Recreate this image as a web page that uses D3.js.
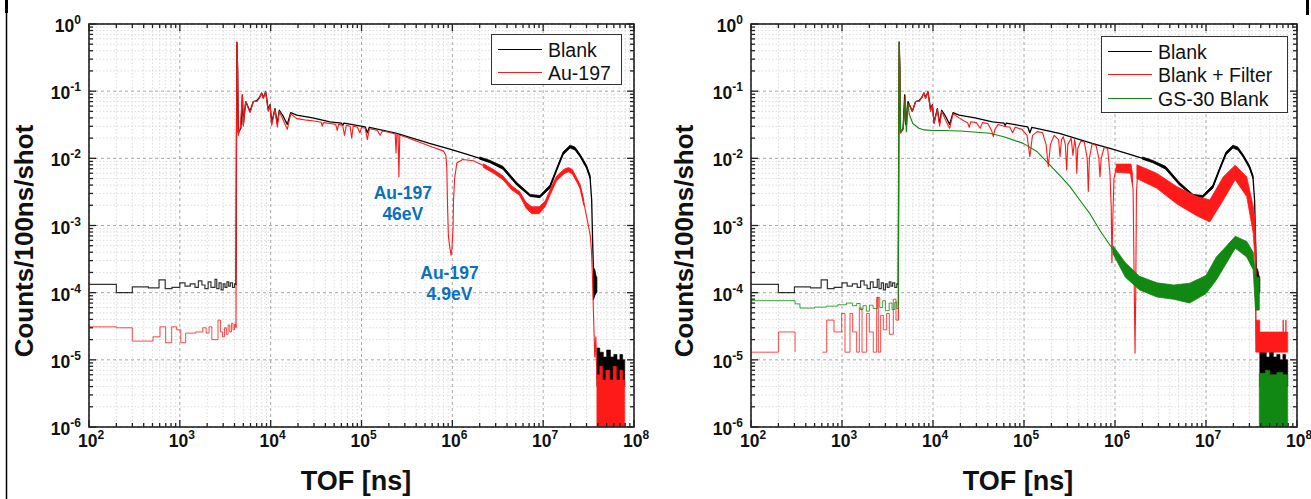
<!DOCTYPE html>
<html>
<head>
<meta charset="utf-8">
<script src="https://cdn.jsdelivr.net/npm/d3@7"></script>
<style>
	body { margin:0; background:#fff; }
	svg { display:block; font-family:"Liberation Sans", Arial, sans-serif; }
	.tick-label { font-weight:bold; font-size:17.5px; fill:#111; }
	.axis-title { font-weight:bold; fill:#111; }
	.legend text { font-size:19.5px; fill:#111; }
	.note { font-weight:bold; font-size:17.5px; fill:#0b6fc0; }
</style>
</head>
<body>
<svg id="chart" width="1311" height="499"></svg>
<script>
// AXES
var xDomain = [1e2, 1e8];
var yDomain = [1e-6, 1];
var xExponents = [2, 3, 4, 5, 6, 7, 8];
var yExponents = [0, -1, -2, -3, -4, -5, -6];

// BLANK (black, shared by both panels) [tof ns, counts]
var blankPre = [[100,1.33e-4],[200,1.0e-4],[300,1.22e-4],[450,1.18e-4],[590,1.55e-4],[690,1.15e-4],[820,1.2e-4],[1000,1.4e-4],[1140,1.25e-4],[1300,1.35e-4],[1470,1.2e-4],[1600,1.5e-4],[1750,1.3e-4],[1890,1.15e-4],[2050,1.45e-4],[2200,1.2e-4],[2440,1.58e-4],[2550,1.15e-4],[2700,1.4e-4],[2850,1.1e-4],[3000,1.35e-4],[3140,1.2e-4],[3300,1.45e-4],[3450,1.25e-4],[3600,1.4e-4],[3800,1.2e-4],[4000,1.35e-4],[4150,1.3e-4]];
var blankMain = [[4150,1.3e-4],[4200,0.017],[4250,0.53],[4330,0.21],[4400,0.024],[4700,0.028],[4880,0.088],[5000,0.032],[5310,0.07],[5930,0.05],[6440,0.07],[7020,0.072],[7500,0.08],[7960,0.094],[8290,0.08],[8810,0.098],[9410,0.053],[9840,0.063],[10270,0.034],[11160,0.055],[11830,0.033],[12450,0.052],[13770,0.042],[15240,0.032],[16620,0.048],[19360,0.044],[29000,0.04],[45000,0.035],[60000,0.0335],[62000,0.031],[64000,0.0335],[110000,0.0293],[116000,0.024],[122000,0.029],[245000,0.0236],[560000,0.0167],[940000,0.0137],[1550000,0.0112],[2600000,0.0089],[3600000,0.0072],[5100000,0.0042],[7200000,0.0028],[9200000,0.0027],[11900000,0.0038],[14000000,0.0067],[16600000,0.0119],[19800000,0.0149],[22400000,0.014],[25500000,0.011],[30000000,0.0075],[32800000,0.0053],[34200000,0.0024],[35000000,6e-4],[35700000,2.4e-4]];
// [tof, low, high] envelopes of the noisy parts
var blankBand = [[2.0e6,0.0097,0.0105],[2.6e6,0.0086,0.0093],[3.6e6,0.0069,0.0076],[5.1e6,0.004,0.0044],[7.2e6,0.0027,0.0029],[9.2e6,0.0026,0.0028],[1.19e7,0.0036,0.004],[1.4e7,0.0064,0.007],[1.66e7,0.0113,0.0125],[1.98e7,0.0142,0.0157],[2.24e7,0.0133,0.0147],[2.55e7,0.0105,0.0115],[3.0e7,0.0071,0.0079],[3.28e7,0.005,0.0056]];
var blankNoise = [[3.57e7,7.8e-5,2.4e-4],[3.7e7,9e-5,2.2e-4],[3.85e7,1e-4,1.7e-4],[3.9e7,1e-4,1.7e-4]];
var blankTail = [[3.9e7,4e-6,1.5e-5],[4.2e7,4.5e-6,1.3e-5],[4.6e7,4e-6,1.1e-5],[5.0e7,4.5e-6,1.4e-5],[5.5e7,4e-6,1.1e-5],[6.0e7,4.5e-6,1.2e-5],[6.5e7,4e-6,1.0e-5],[7.0e7,4.5e-6,1.2e-5],[7.5e7,4e-6,1.0e-5],[7.9e7,4e-6,1.0e-5]];

// AU-197 (red, left panel)
var auPre = [[100,3.1e-5],[200,3.0e-5],[300,1.9e-5],[507,2.2e-5],[605,3.1e-5],[698,1.8e-5],[813,3.1e-5],[922,2.8e-5],[1025,1.8e-5],[1160,2.5e-5],[1496,2.6e-5],[1785,3.0e-5],[1950,2.5e-5],[2100,3.1e-5],[2250,2.0e-5],[2630,3.9e-5],[2800,2.6e-5],[2950,2.2e-5],[3100,3.0e-5],[3250,2.4e-5],[3400,3.3e-5],[3550,2.6e-5],[3700,3.5e-5],[3850,2.8e-5],[4000,3.4e-5],[4150,3.0e-5]];
var auMain = [[4150,3.0e-5],[4200,0.017],[4250,0.54],[4330,0.22],[4400,0.022],[4650,0.03],[4880,0.088],[5000,0.03],[5310,0.07],[5930,0.048],[6440,0.07],[7020,0.07],[7500,0.078],[7960,0.093],[8290,0.078],[8810,0.098],[9410,0.05],[9840,0.062],[10270,0.031],[11160,0.054],[11830,0.029],[12450,0.05],[13770,0.037],[15240,0.027],[16620,0.046],[19360,0.039],[22000,0.038],[25000,0.037],[30000,0.036],[36000,0.0345],[37000,0.03],[38000,0.034],[45000,0.033],[52000,0.032],[54000,0.026],[56000,0.032],[62000,0.031],[65000,0.022],[68000,0.031],[75000,0.03],[78000,0.02],[81000,0.03],[90000,0.0292],[96000,0.024],[100000,0.0288],[110000,0.028],[116000,0.019],[122000,0.0275],[135000,0.027],[150000,0.026],[160000,0.022],[170000,0.0255],[200000,0.0245],[235000,0.023],[240000,0.012],[245000,0.0228],[253000,0.022],[258000,0.0053],[264000,0.022],[300000,0.021],[450000,0.017],[600000,0.0148],[800000,0.0128],[850000,0.011],[870000,0.007],[885000,0.002],[905000,7e-4],[940000,4.6e-4],[970000,3.6e-4],[990000,4.5e-4],[1020000,0.001],[1030000,0.0023],[1060000,0.005],[1120000,0.0085],[1300000,0.0096],[1700000,0.0092],[2200000,0.0078],[2900000,0.0063],[3600000,0.0052],[4500000,0.0036],[5500000,0.003],[6500000,0.002],[7500000,0.0017],[9000000,0.0017],[10500000,0.0021],[12000000,0.0032],[14000000,0.005],[17000000,0.0064],[19000000,0.0068],[21000000,0.0063],[24000000,0.0045],[25500000,0.0038],[28000000,0.0022],[31000000,0.0011],[33000000,7e-4],[34000000,4.3e-4],[35000000,1.5e-4],[35700000,5.5e-5],[37000000,1.1e-5],[38000000,2.2e-5],[39000000,5e-6]];
var auBand = [[2.2e6,0.0073,0.0083],[2.9e6,0.0059,0.0067],[3.6e6,0.0048,0.0055],[4.5e6,0.0034,0.0039],[5.5e6,0.0028,0.0032],[6.5e6,0.0018,0.0022],[7.5e6,0.0015,0.0019],[9e6,0.0015,0.0019],[1.05e7,0.0019,0.0023],[1.2e7,0.0029,0.0035],[1.4e7,0.0046,0.0054],[1.7e7,0.0059,0.0069],[1.9e7,0.0063,0.0073],[2.1e7,0.0058,0.0068],[2.4e7,0.0042,0.0048],[2.55e7,0.0035,0.0041],[2.8e7,0.002,0.0024]];
var auTail = [[3.9e7,1e-6,6e-6],[4.2e7,1e-6,8e-6],[4.5e7,1e-6,5e-6],[4.9e7,1e-6,7e-6],[5.4e7,1e-6,5e-6],[5.9e7,1e-6,8e-6],[6.4e7,1e-6,5e-6],[7.0e7,1e-6,7e-6],[7.5e7,1e-6,5e-6],[7.9e7,1e-6,5e-6]];

// BLANK + FILTER (red, right panel) -- 0 marks empty bins
var filterPre = [[100,1.3e-5],[200,2.6e-5],[305,1.3e-5],[320,0],[608,1.3e-5],[679,3.9e-5],[817,2.6e-5],[991,4.9e-5],[1079,1.3e-5],[1224,4.9e-5],[1310,2.6e-5],[1449,1.3e-5],[1550,5.9e-5],[1660,1.3e-5],[1866,4.9e-5],[1995,2.6e-5],[2208,1.3e-5],[2403,8.5e-5],[2507,1.3e-5],[2660,4.6e-5],[2846,2.8e-5],[3096,4.9e-5],[3313,2.4e-5],[3664,8e-5],[3920,3.9e-5],[4160,3.9e-5]];
var filterMain = [[4160,3.9e-5],[4200,0.0167],[4250,0.5],[4330,0.2],[4400,0.024],[4700,0.027],[4950,0.085],[5100,0.03],[5400,0.065],[5930,0.05],[6440,0.07],[7020,0.07],[7500,0.08],[7960,0.095],[8290,0.078],[8810,0.098],[9410,0.05],[9840,0.062],[10270,0.033],[11160,0.054],[11830,0.03],[12450,0.05],[13770,0.037],[15240,0.028],[16620,0.046],[19360,0.04],[22000,0.036],[24000,0.034],[25000,0.029],[26000,0.035],[30000,0.034],[33000,0.028],[35000,0.034],[40000,0.033],[44000,0.026],[46000,0.021],[48000,0.027],[52000,0.032],[60000,0.03],[70000,0.029],[75000,0.024],[80000,0.029],[95000,0.027],[108000,0.022],[116000,0.0106],[124000,0.022],[140000,0.025],[160000,0.024],[175000,0.016],[185000,0.0075],[195000,0.016],[215000,0.022],[240000,0.019],[249000,0.0106],[258000,0.019],[270000,0.021],[285000,0.016],[294000,0.0067],[303000,0.016],[330000,0.02],[345000,0.011],[360000,0.019],[372000,0.014],[380000,0.006],[390000,0.014],[420000,0.018],[460000,0.0175],[495000,0.01],[509000,0.0032],[523000,0.01],[560000,0.0165],[620000,0.0155],[665000,0.01],[684000,0.0053],[705000,0.01],[760000,0.0145],[830000,0.014],[880000,0.006],[910000,0.0018],[925000,2.8e-4],[945000,0.0012],[975000,0.005],[1030000,0.0072],[1200000,0.0075],[1450000,0.0072],[1580000,0.0035],[1630000,1e-4],[1660000,1.26e-5],[1690000,1e-4],[1720000,0.003],[1780000,0.0068]];
var filterBandA = [[1.03e6,0.0062,0.0082],[1.5e6,0.006,0.0082],[1.56e6,0.0042,0.0058]];
var filterBand = [[1.74e6,0.005,0.008],[2.87e6,0.0036,0.006],[4.76e6,0.0021,0.0038],[7.9e6,0.0014,0.0027],[1.1e7,0.00113,0.0024],[1.55e7,0.0024,0.0053],[2.09e7,0.0048,0.0079],[2.8e7,0.0027,0.0053],[3.31e7,7.6e-4,0.0019],[3.45e7,3e-4,0.0012],[3.55e7,1.3e-5,4e-4]];
var filterTail = [[3.55e7,1.3e-5,3.9e-5],[3.9e7,1.3e-5,2.6e-5],[7.0e7,1.3e-5,3.9e-5],[7.1e7,1.3e-5,2.6e-5],[7.5e7,1.3e-5,3.9e-5],[7.6e7,1.3e-5,2.6e-5],[7.9e7,1.3e-5,2.6e-5]];

// GS-30 BLANK (green, right panel)
var gsPre = [[100,7.6e-5],[305,6.8e-5],[345,5.9e-5],[500,6.1e-5],[676,6.3e-5],[900,6.6e-5],[1120,7.0e-5],[1300,6.4e-5],[1450,6.9e-5],[1580,5.6e-5],[1700,6.4e-5],[1850,5.3e-5],[2000,6.5e-5],[2200,5.8e-5],[2450,8.5e-5],[2600,6.0e-5],[2800,7.6e-5],[3000,5.4e-5],[3300,7.0e-5],[3550,5.6e-5],[3800,7.2e-5],[4000,5.8e-5],[4160,6.5e-5]];
var gsMain = [[4160,6.5e-5],[4200,0.02],[4240,0.55],[4320,0.2],[4400,0.025],[4700,0.028],[4950,0.074],[5100,0.025],[5300,0.066],[5500,0.045],[6000,0.033],[7000,0.028],[8000,0.0265],[10000,0.026],[13000,0.026],[20000,0.0255],[42000,0.0236],[60000,0.021],[98000,0.0167],[140000,0.0125],[185000,0.0084],[250000,0.0055],[320000,0.0038],[400000,0.0025],[530000,0.0015],[700000,8e-4],[950000,4.4e-4]];
var gsBand = [[9.5e5,3.8e-4,5.0e-4],[1.3e6,1.7e-4,2.8e-4],[1.86e6,1.1e-4,1.75e-4],[2.9e6,8.6e-5,1.4e-4],[4.4e6,8e-5,1.3e-4],[6.6e6,7e-5,1.38e-4],[1.0e7,9.7e-5,1.8e-4],[1.3e7,1.55e-4,3.4e-4],[1.55e7,2.3e-4,4.4e-4],[2.1e7,4.6e-4,6.9e-4],[2.8e7,3.4e-4,5.8e-4],[3.3e7,2.2e-4,4e-4],[3.5e7,5.5e-5,1.7e-4],[3.85e7,5.5e-5,1.7e-4]];
var gsTail = [[3.85e7,1e-6,6.3e-6],[4.5e7,1e-6,7e-6],[5.0e7,1e-6,6e-6],[6.0e7,1e-6,6.5e-6],[7.0e7,1e-6,6e-6],[7.9e7,1e-6,6e-6]];

// LEGENDS / NOTES
var leftLegend = ['Blank', 'Au-197'];
var rightLegend = ['Blank', 'Blank + Filter', 'GS-30 Blank'];
var notes = [['Au-197', '46eV'], ['Au-197', '4.9eV']];

var svg = d3.select('#chart');
var plotTop = 24;
var plotBottom = 427;
var black = '#000', red = '#ff1a1a', green = '#118811';

// slide frame bits
svg.append('line').attr('x1', 6.5).attr('x2', 6.5).attr('y1', 0).attr('y2', 499)
	.attr('stroke', '#000').attr('stroke-width', 1.5);
svg.append('rect').attr('x', 5).attr('y', 0).attr('width', 3).attr('height', 13).attr('fill', '#000');
svg.append('rect').attr('x', 1306).attr('y', 0).attr('width', 3).attr('height', 15).attr('fill', '#000');

function isMajor(v) {
	var l = Math.log10(v);
	return Math.abs(l - Math.round(l)) < 1e-6;
}

function drawPanel(cfg, idx) {
	var g = svg.append('g');
	var x = d3.scaleLog().domain(xDomain).range([cfg.left, cfg.right]);
	var y = d3.scaleLog().domain(yDomain).range([plotBottom, plotTop]);
	var xt = x.ticks(), yt = y.ticks();

	// GRID
	var grid = g.append('g');
	grid.selectAll('.gx').data(xt.filter(function(d) { return !isMajor(d); })).join('line')
		.attr('x1', x).attr('x2', x).attr('y1', plotTop).attr('y2', plotBottom)
		.attr('stroke', '#d4d4d4').attr('stroke-width', 0.8).attr('stroke-dasharray', '1.5,2');
	grid.selectAll('.gy').data(yt.filter(function(d) { return !isMajor(d); })).join('line')
		.attr('y1', y).attr('y2', y).attr('x1', cfg.left).attr('x2', cfg.right)
		.attr('stroke', '#d4d4d4').attr('stroke-width', 0.8).attr('stroke-dasharray', '1.5,2');
	grid.selectAll('.mx').data(xt.filter(isMajor)).join('line')
		.attr('x1', x).attr('x2', x).attr('y1', plotTop).attr('y2', plotBottom)
		.attr('stroke', '#a8a8a8').attr('stroke-width', 1).attr('stroke-dasharray', '3,3');
	grid.selectAll('.my').data(yt.filter(isMajor)).join('line')
		.attr('y1', y).attr('y2', y).attr('x1', cfg.left).attr('x2', cfg.right)
		.attr('stroke', '#a8a8a8').attr('stroke-width', 1).attr('stroke-dasharray', '3,3');

	// SERIES
	var clipId = 'clip' + idx;
	svg.append('defs').append('clipPath').attr('id', clipId).append('rect')
		.attr('x', cfg.left).attr('y', plotTop).attr('width', cfg.right - cfg.left).attr('height', plotBottom - plotTop);
	var plot = g.append('g').attr('clip-path', 'url(#' + clipId + ')');

	var stepLine = d3.line().defined(function(d) { return d[1] > 0; })
		.x(function(d) { return x(d[0]); }).y(function(d) { return y(d[1]); })
		.curve(d3.curveStepAfter);
	var line = d3.line()
		.x(function(d) { return x(d[0]); }).y(function(d) { return y(d[1]); });
	var band = d3.area()
		.x(function(d) { return x(d[0]); }).y0(function(d) { return y(d[1]); }).y1(function(d) { return y(d[2]); });
	var stepBand = d3.area().curve(d3.curveStepAfter)
		.x(function(d) { return x(d[0]); }).y0(function(d) { return y(d[1]); }).y1(function(d) { return y(d[2]); });

	cfg.series.forEach(function(s) {
		plot.append('path').datum(s.pre).attr('d', stepLine)
			.attr('fill', 'none').attr('stroke', s.color).attr('stroke-width', s.width * 0.9).attr('opacity', 0.8);
		s.bands.forEach(function(b) {
			plot.append('path').datum(b).attr('d', band)
				.attr('fill', s.color).attr('stroke', s.color).attr('stroke-width', 0.8);
		});
		plot.append('path').datum(s.main).attr('d', line)
			.attr('fill', 'none').attr('stroke', s.color).attr('stroke-width', s.width).attr('stroke-linejoin', 'round');
		plot.append('path').datum(s.tail).attr('d', stepBand)
			.attr('fill', s.color).attr('stroke', s.color).attr('stroke-width', 0.6);
	});

	// FRAME + TICKS (inward, mirrored)
	var axes = g.append('g');
	axes.append('rect').attr('x', cfg.left).attr('y', plotTop)
		.attr('width', cfg.right - cfg.left).attr('height', plotBottom - plotTop)
		.attr('fill', 'none').attr('stroke', '#222').attr('stroke-width', 1.6);
	var tick = function(d) { return isMajor(d) ? 7 : 4; };
	axes.selectAll('.tb').data(xt).join('line')
		.attr('x1', x).attr('x2', x).attr('y1', plotBottom).attr('y2', function(d) { return plotBottom - tick(d); })
		.attr('stroke', '#222').attr('stroke-width', 1.3);
	axes.selectAll('.tt').data(xt).join('line')
		.attr('x1', x).attr('x2', x).attr('y1', plotTop).attr('y2', function(d) { return plotTop + tick(d); })
		.attr('stroke', '#222').attr('stroke-width', 1.3);
	axes.selectAll('.tl').data(yt).join('line')
		.attr('y1', y).attr('y2', y).attr('x1', cfg.left).attr('x2', function(d) { return cfg.left + tick(d); })
		.attr('stroke', '#222').attr('stroke-width', 1.3);
	axes.selectAll('.tr').data(yt).join('line')
		.attr('y1', y).attr('y2', y).attr('x1', cfg.right).attr('x2', function(d) { return cfg.right - tick(d); })
		.attr('stroke', '#222').attr('stroke-width', 1.3);

	// TICK LABELS
	var xl = axes.selectAll('.xl').data(xExponents).join('text')
		.attr('class', 'tick-label').attr('text-anchor', 'middle')
		.attr('x', function(e) { return x(Math.pow(10, e)) + 2; }).attr('y', 446.5);
	xl.append('tspan').text('10');
	xl.append('tspan').attr('dy', -8).attr('font-size', 12).text(function(e) { return e; });

	var yl = axes.selectAll('.yl').data(yExponents).join('text')
		.attr('class', 'tick-label').attr('text-anchor', 'end')
		.attr('x', cfg.left - 8).attr('y', function(e) { return y(Math.pow(10, e)) + 8; });
	yl.append('tspan').text('10');
	yl.append('tspan').attr('dy', -8).attr('font-size', 12).text(function(e) { return e; });

	// AXIS TITLES
	g.append('text').attr('class', 'axis-title').attr('font-size', 26)
		.attr('text-anchor', 'middle')
		.attr('transform', 'translate(' + cfg.yTitleX + ',241)rotate(-90)')
		.text('Counts/100ns/shot');
	g.append('text').attr('class', 'axis-title').attr('font-size', 27)
		.attr('text-anchor', 'middle').attr('x', cfg.xTitleX).attr('y', 490)
		.text('TOF [ns]');

	// LEGEND
	var lg = g.append('g').attr('class', 'legend');
	lg.append('rect').attr('x', cfg.legend.x + 0.5).attr('y', cfg.legend.y + 0.5)
		.attr('width', cfg.legend.w).attr('height', cfg.legend.h)
		.attr('fill', '#fff').attr('stroke', '#333').attr('stroke-width', 1);
	cfg.legend.labels.forEach(function(label, i) {
		var ly = Math.round(cfg.legend.y + 15 + i * cfg.legend.step) + 0.5;
		lg.append('line').attr('x1', cfg.legend.x + 7).attr('x2', cfg.legend.x + 51)
			.attr('y1', ly).attr('y2', ly)
			.attr('stroke', cfg.series[i].color).attr('stroke-width', 1);
		lg.append('text').attr('x', cfg.legend.x + 57).attr('y', ly + 7).text(label);
	});

	return { x: x, y: y, g: g };
}

var left = drawPanel({
	left: 89, right: 634, yTitleX: 33, xTitleX: 356,
	legend: { x: 491, y: 34, w: 130, h: 50, step: 23, labels: leftLegend },
	series: [
		{ pre: blankPre, main: blankMain, bands: [blankBand, blankNoise], tail: blankTail, color: black, width: 1.3 },
		{ pre: auPre, main: auMain, bands: [auBand], tail: auTail, color: red, width: 1.1 }
	]
}, 0);

drawPanel({
	left: 751, right: 1297, yTitleX: 693, xTitleX: 1018,
	legend: { x: 1101, y: 36, w: 186, h: 76, step: 23.3, labels: rightLegend },
	series: [
		{ pre: blankPre, main: blankMain, bands: [blankBand, blankNoise], tail: blankTail, color: black, width: 1.3 },
		{ pre: filterPre, main: filterMain, bands: [filterBandA, filterBand], tail: filterTail, color: red, width: 1.1 },
		{ pre: gsPre, main: gsMain, bands: [gsBand], tail: gsTail, color: green, width: 1.1 }
	]
}, 1);

// RESONANCE NOTES (left panel)
var noteAt = [[2.85e5, 198.5], [9.3e5, 279]];
notes.forEach(function(n, i) {
	var t = left.g.append('text').attr('class', 'note').attr('text-anchor', 'middle');
	t.append('tspan').attr('x', left.x(noteAt[i][0])).attr('y', noteAt[i][1]).text(n[0]);
	t.append('tspan').attr('x', left.x(noteAt[i][0])).attr('y', noteAt[i][1] + 21).text(n[1]);
});
</script>
</body>
</html>
